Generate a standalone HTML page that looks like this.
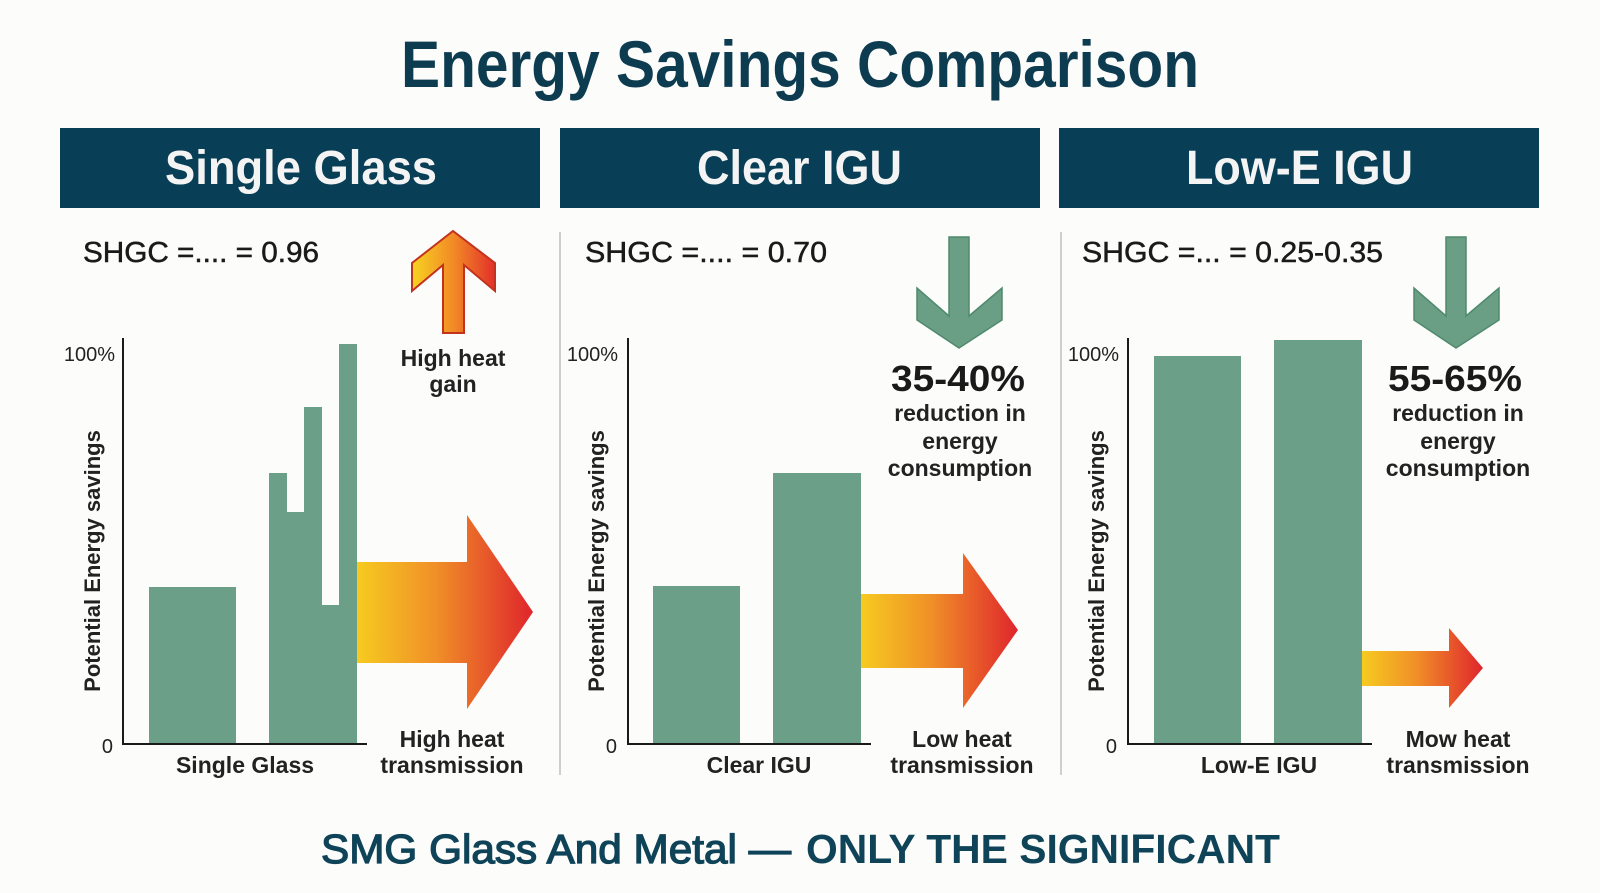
<!DOCTYPE html>
<html>
<head>
<meta charset="utf-8">
<style>
  html,body{margin:0;padding:0;background:#fcfcfb;}
  svg{display:block;}
  text{font-family:"Liberation Sans",Arial,sans-serif;}
</style>
</head>
<body>
<svg width="1600" height="893" viewBox="0 0 1600 893" xmlns="http://www.w3.org/2000/svg">
  <defs>
    <linearGradient id="hot" x1="0" y1="0" x2="1" y2="0">
      <stop offset="0" stop-color="#f6cb20"/>
      <stop offset="0.45" stop-color="#f08f28"/>
      <stop offset="1" stop-color="#df252c"/>
    </linearGradient>
    <linearGradient id="hotUp" x1="0" y1="0" x2="1" y2="0">
      <stop offset="0" stop-color="#f7d321"/>
      <stop offset="0.5" stop-color="#f28a26"/>
      <stop offset="1" stop-color="#e3302a"/>
    </linearGradient>
  </defs>
  <rect width="1600" height="893" fill="#fcfcfb"/>

  <!-- Title -->
  <text x="401" y="87" font-size="66" font-weight="bold" fill="#0d3c51" textLength="798" lengthAdjust="spacingAndGlyphs">Energy Savings Comparison</text>

  <!-- Headers -->
  <rect x="60" y="128" width="480" height="80" fill="#083f57"/>
  <rect x="560" y="128" width="480" height="80" fill="#083f57"/>
  <rect x="1059" y="128" width="480" height="80" fill="#083f57"/>
  <text x="165" y="184" font-size="48" font-weight="bold" fill="#f4f4f4" textLength="272" lengthAdjust="spacingAndGlyphs">Single Glass</text>
  <text x="697" y="184" font-size="48" font-weight="bold" fill="#f4f4f4" textLength="205" lengthAdjust="spacingAndGlyphs">Clear IGU</text>
  <text x="1186" y="184" font-size="48" font-weight="bold" fill="#f4f4f4" textLength="227" lengthAdjust="spacingAndGlyphs">Low-E IGU</text>

  <!-- Dividers -->
  <line x1="560" y1="232" x2="560" y2="775" stroke="#cfcfcf" stroke-width="2"/>
  <line x1="1061" y1="232" x2="1061" y2="775" stroke="#cfcfcf" stroke-width="2"/>

  <!-- SHGC -->
  <g font-size="29" fill="#1a1a1a" stroke="#1a1a1a" stroke-width="0.5">
    <text x="83" y="262" textLength="236" lengthAdjust="spacingAndGlyphs">SHGC =.... = 0.96</text>
    <text x="585" y="262" textLength="242" lengthAdjust="spacingAndGlyphs">SHGC =.... = 0.70</text>
    <text x="1082" y="262" textLength="301" lengthAdjust="spacingAndGlyphs">SHGC =... = 0.25-0.35</text>
  </g>

  <!-- ===== Panel 1 ===== -->
  <polygon points="453,231 495,263 495,291 464,265 464,333 443,333 443,265 412,291 412,263" fill="url(#hotUp)" stroke="#c2331f" stroke-width="2" stroke-linejoin="miter"/>
  <g font-size="23" font-weight="bold" fill="#222" text-anchor="middle">
    <text x="453" y="366">High heat</text>
    <text x="453" y="392">gain</text>
    <text x="452" y="747">High heat</text>
    <text x="452" y="773">transmission</text>
    <text x="245" y="773">Single Glass</text>
  </g>
  <!-- bars -->
  <rect x="149" y="587" width="87" height="157" fill="#6b9f87"/>
  <polygon points="269,744 269,473 287,473 287,512 304,512 304,407 322,407 322,605 339,605 339,344 357,344 357,744" fill="#6b9f87"/>
  <!-- arrow -->
  <polygon points="357,562 467,562 467,515 533,612 467,709 467,663 357,663" fill="url(#hot)"/>
  <!-- axes -->
  <line x1="123" y1="338" x2="123" y2="744" stroke="#1a1a1a" stroke-width="2"/>
  <line x1="122" y1="744" x2="367" y2="744" stroke="#1a1a1a" stroke-width="2"/>
  <text x="115" y="361" font-size="20" fill="#222" text-anchor="end">100%</text>
  <text x="113" y="753" font-size="20" fill="#222" text-anchor="end">0</text>
  <text transform="translate(100,561) rotate(-90)" font-size="22" font-weight="bold" fill="#222" text-anchor="middle">Potential Energy savings</text>

  <!-- ===== Panel 2 ===== -->
  <polygon points="949,237 969,237 969,316 1002,288 1002,320 959,348 917,320 917,288 949,316" fill="#6a9e85" stroke="#4f8a6d" stroke-width="1.5"/>
  <text x="958" y="391" font-size="36" font-weight="bold" fill="#1a1a1a" text-anchor="middle" textLength="134" lengthAdjust="spacingAndGlyphs">35-40%</text>
  <g font-size="23" font-weight="bold" fill="#222" text-anchor="middle">
    <text x="960" y="421">reduction in</text>
    <text x="960" y="449">energy</text>
    <text x="960" y="476">consumption</text>
    <text x="962" y="747">Low heat</text>
    <text x="962" y="773">transmission</text>
    <text x="759" y="773">Clear IGU</text>
  </g>
  <rect x="653" y="586" width="87" height="158" fill="#6b9f87"/>
  <rect x="773" y="473" width="88" height="271" fill="#6b9f87"/>
  <polygon points="861,594 963,594 963,553 1018,630 963,708 963,668 861,668" fill="url(#hot)"/>
  <line x1="628" y1="338" x2="628" y2="744" stroke="#1a1a1a" stroke-width="2"/>
  <line x1="627" y1="744" x2="871" y2="744" stroke="#1a1a1a" stroke-width="2"/>
  <text x="618" y="361" font-size="20" fill="#222" text-anchor="end">100%</text>
  <text x="617" y="753" font-size="20" fill="#222" text-anchor="end">0</text>
  <text transform="translate(604,561) rotate(-90)" font-size="22" font-weight="bold" fill="#222" text-anchor="middle">Potential Energy savings</text>

  <!-- ===== Panel 3 ===== -->
  <polygon points="1446,237 1466,237 1466,316 1499,288 1499,320 1456,348 1414,320 1414,288 1446,316" fill="#6a9e85" stroke="#4f8a6d" stroke-width="1.5"/>
  <text x="1455" y="391" font-size="36" font-weight="bold" fill="#1a1a1a" text-anchor="middle" textLength="134" lengthAdjust="spacingAndGlyphs">55-65%</text>
  <g font-size="23" font-weight="bold" fill="#222" text-anchor="middle">
    <text x="1458" y="421">reduction in</text>
    <text x="1458" y="449">energy</text>
    <text x="1458" y="476">consumption</text>
    <text x="1458" y="747">Mow heat</text>
    <text x="1458" y="773">transmission</text>
    <text x="1259" y="773">Low-E IGU</text>
  </g>
  <rect x="1154" y="356" width="87" height="388" fill="#6b9f87"/>
  <rect x="1274" y="340" width="88" height="404" fill="#6b9f87"/>
  <polygon points="1362,651 1449,651 1449,628 1483,668 1449,708 1449,686 1362,686" fill="url(#hot)"/>
  <line x1="1128" y1="338" x2="1128" y2="744" stroke="#1a1a1a" stroke-width="2"/>
  <line x1="1127" y1="744" x2="1372" y2="744" stroke="#1a1a1a" stroke-width="2"/>
  <text x="1119" y="361" font-size="20" fill="#222" text-anchor="end">100%</text>
  <text x="1117" y="753" font-size="20" fill="#222" text-anchor="end">0</text>
  <text transform="translate(1104,561) rotate(-90)" font-size="22" font-weight="bold" fill="#222" text-anchor="middle">Potential Energy savings</text>

  <!-- Footer -->
  <text x="321" y="863" font-size="41" fill="#0f4358" stroke="#0f4358" stroke-width="1.3" textLength="470" lengthAdjust="spacingAndGlyphs">SMG Glass And Metal —</text>
  <text x="806" y="863" font-size="41" font-weight="bold" fill="#0f4358" textLength="474" lengthAdjust="spacingAndGlyphs">ONLY THE SIGNIFICANT</text>
</svg>
</body>
</html>
